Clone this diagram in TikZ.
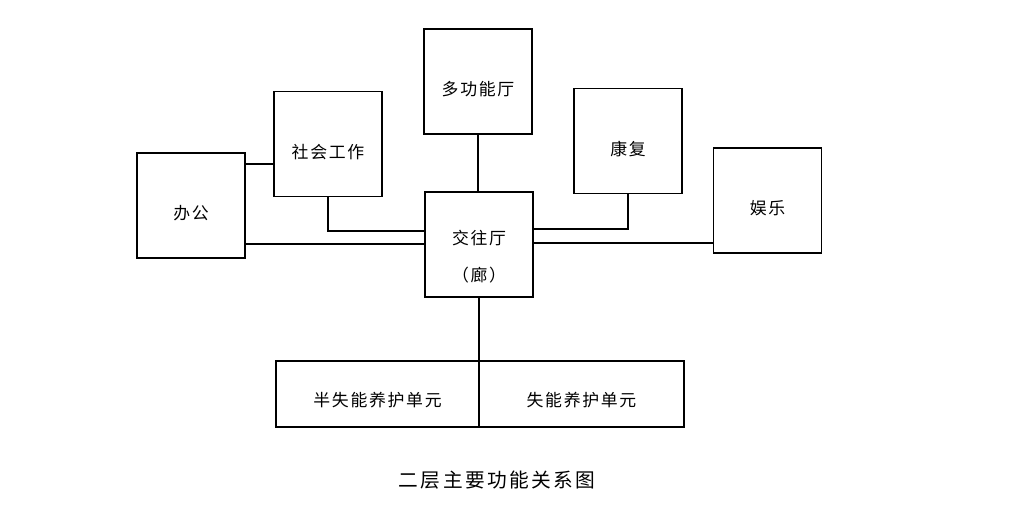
\documentclass[tikz,border=0pt]{standalone}
\usepackage{fontspec}
\setmainfont[LetterSpace=10]{Noto Sans CJK SC}
\newfontfamily\capfont[LetterSpace=12]{Noto Sans CJK SC}
\usetikzlibrary{positioning}

\begin{document}
\begin{tikzpicture}[
  x=0.025cm, y=-0.025cm,
  room/.style={draw, line width=1.1pt, minimum width=2.7cm, minimum height=2.625cm, font=\fontsize{12}{14.5}\selectfont, text height=22pt, text depth=1.4pt},
  unit/.style={draw, line width=1.1pt, minimum height=1.65cm, font=\fontsize{12}{14.5}\selectfont, text height=19.2pt, text depth=1.4pt},
  link/.style={line width=1.1pt}
]
\useasboundingbox (0,0) rectangle (1033,527);
\node[room] (bangong) at (191,205.5) {办公};
\node[room] (shehui) at (328,144) {社会工作};
\node[room] (duogong) at (478,81.5) {多功能厅};
\node[room] (kangfu) at (628,141) {康复};
\node[room] (yule) at (767.5,200.5) {娱乐};
\node[room, align=center, text height=54pt, text depth=1.4pt] (jiaowang) at (479,244.5) {交往厅\\[12pt]（廊）};
\node[unit, minimum width=5.075cm] (banshi) at (377.5,394) {半失能养护单元};
\node[unit, minimum width=5.125cm] (shineng) at (581.5,394) {失能养护单元};
\node[font=\capfont\fontsize{14}{16}\selectfont] (title) at (497,480) {二层主要功能关系图};
\draw[link] (bangong.east |- 0,164) -- (shehui.west |- 0,164);
\draw[link] (bangong.east |- 0,244) -- (jiaowang.west |- 0,244);
\draw[link] (shehui.south) |- (jiaowang.west |- 0,231);
\draw[link] (duogong.south) -- (duogong.south |- jiaowang.north);
\draw[link] (kangfu.south) |- (jiaowang.east |- 0,229);
\draw[link] (jiaowang.east |- 0,243) -- (yule.west |- 0,243);
\draw[link] (jiaowang.south) -- (jiaowang.south |- banshi.north);
\end{tikzpicture}
\end{document}
